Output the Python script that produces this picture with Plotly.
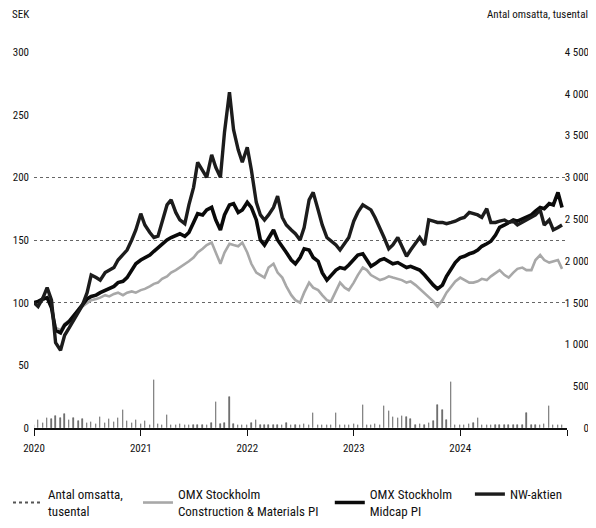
import pandas as pd
import plotly.graph_objects as go

FONT = "Liberation Sans Narrow, Roboto Condensed, Arial Narrow, sans-serif"
INK = "#111111"

# semi-monthly observations (1st and 15th), Jan 2020 - Dec 2024
DATES = pd.date_range("2020-01-01", periods=120, freq="SMS")

NW_SHARE = [
    100, 97, 104, 112, 102, 68, 62, 74, 80, 86, 92, 98, 108, 122, 120, 118,
    124, 126, 128, 134, 138, 142, 150, 158, 171, 162, 156, 152, 153, 164, 178, 182,
    172, 166, 163, 178, 192, 212, 206, 200, 218, 208, 200, 236, 268, 238, 222, 212,
    224, 206, 180, 170, 166, 170, 176, 185, 168, 162, 158, 155, 150, 160, 182, 188,
    174, 162, 152, 149, 146, 142, 148, 152, 165, 172, 178, 176, 174, 168, 160, 152,
    143, 146, 152, 145, 137, 142, 148, 152, 146, 166, 165, 164, 164, 163, 164, 165,
    167, 168, 172, 171, 170, 168, 175, 164, 164, 165, 166, 164, 165, 162, 164, 166,
    168, 170, 174, 162, 166, 158, 160, 162,
]

MIDCAP = [
    100, 101, 103, 104, 96, 78, 76, 82, 85, 89, 94, 98, 103, 105, 106, 108,
    110, 111, 113, 116, 117, 120, 126, 131, 134, 136, 138, 141, 144, 147, 150, 152,
    154, 155, 153, 156, 164, 171, 170, 174, 176, 166, 158, 170, 178, 179, 172, 174,
    180, 176, 166, 150, 146, 152, 158, 150, 144, 140, 134, 131, 136, 143, 142, 136,
    133, 124, 118, 122, 126, 128, 127, 130, 134, 138, 139, 134, 129, 131, 134, 135,
    133, 131, 132, 130, 128, 129, 127, 126, 122, 118, 114, 111, 114, 121, 127, 132,
    136, 137, 139, 140, 142, 145, 147, 149, 154, 160, 162, 164, 166, 165, 167, 168,
    170, 173, 176, 175, 179, 178, 188, 176,
]

CONSTRUCTION = [
    100, 99, 102, 104, 96, 80, 78, 83, 86, 90, 94, 97, 100, 102, 103, 104,
    106, 105, 107, 108, 106, 108, 109, 108, 110, 111, 113, 115, 116, 119, 121, 124,
    126, 128, 131, 133, 136, 140, 143, 146, 148, 140, 131, 140, 147, 146, 145, 148,
    140, 131, 124, 122, 120, 128, 131, 124, 120, 113, 106, 102, 100, 108, 116, 112,
    110, 106, 102, 101, 110, 116, 112, 110, 116, 122, 128, 126, 122, 120, 118, 119,
    121, 120, 119, 118, 116, 117, 114, 111, 108, 105, 101, 97, 102, 108, 113, 117,
    120, 118, 116, 116, 117, 119, 118, 121, 124, 126, 122, 120, 124, 127, 128, 126,
    126, 134, 138, 134, 132, 133, 134, 127,
]

# thousands of shares traded
VOLUME = [
    40, 95, 60, 120, 110, 140, 120, 170, 100, 120, 80, 110, 60, 70, 50, 130,
    60, 110, 70, 120, 215, 80, 60, 95, 50, 80, 40, 570, 50, 40, 160, 40,
    30, 50, 30, 40, 30, 40, 30, 35, 60, 310, 50, 60, 370, 50, 40, 30,
    40, 60, 90, 40, 30, 40, 30, 40, 30, 60, 40, 30, 40, 50, 40, 180,
    30, 40, 30, 40, 180, 30, 40, 30, 50, 40, 275, 40, 30, 50, 40, 260,
    200, 130, 120, 140, 130, 110, 40, 50, 40, 60, 80, 275, 220, 90, 550, 40,
    30, 40, 50, 60, 120, 40, 30, 40, 30, 40, 30, 40, 30, 40, 30, 180,
    30, 40, 30, 50, 260, 40, 30, 40,
]

YEAR_TICKS = ["2020-01-01", "2021-01-01", "2022-01-01", "2023-01-01", "2024-01-01", "2025-01-01"]
YEAR_LABELS = ["2020", "2021", "2022", "2023", "2024", ""]
SEK_TICKS = [0, 50, 100, 150, 200, 250, 300]
GRID_LEVELS = [100, 150, 200]
VOL_TICKS = [0, 500, 1000, 1500, 2000, 2500, 3000, 3500, 4000, 4500]
VOL_LABELS = ["0", "500", "1 000", "1 500", "2 000", "2 500", "3 000", "3 500", "4 000", "4 500"]

fig = go.Figure()

# empty trace so the grid-only axis gets drawn
fig.add_trace(go.Scatter(x=[DATES[0]], y=[None], yaxis="y3", showlegend=False, hoverinfo="skip"))

fig.add_trace(go.Bar(
    x=DATES, y=VOLUME, yaxis="y2", width=1.2 * 86400000,
    marker=dict(color="#5a5a5a", line=dict(width=0.6, color="#5a5a5a")),
    showlegend=False, hoverinfo="x+y",
))
# legend stand-in for the volume bars
fig.add_trace(go.Scatter(
    x=[None], y=[None], mode="lines", name="Antal omsatta,<br>tusental",
    line=dict(color="#555555", width=2, dash="dot"), legend="legend",
))
fig.add_trace(go.Scatter(
    x=DATES, y=CONSTRUCTION, mode="lines", name="OMX Stockholm<br>Construction & Materials PI",
    line=dict(color="#a8a8a8", width=2.6), legend="legend2",
))
fig.add_trace(go.Scatter(
    x=DATES, y=MIDCAP, mode="lines", name="OMX Stockholm<br>Midcap PI",
    line=dict(color="#0a0a0a", width=3.6), legend="legend3",
))
fig.add_trace(go.Scatter(
    x=DATES, y=NW_SHARE, mode="lines", name="NW-aktien",
    line=dict(color="#1c1c1c", width=3.4), legend="legend4",
))

legend_base = dict(
    orientation="h", xref="paper", yref="container", y=0.094, yanchor="top",
    xanchor="left", font=dict(family=FONT, size=13, color=INK), bgcolor="rgba(0,0,0,0)",
    itemwidth=30,
)

# the page sits 8 px in from the window edge, so the figure is drawn 8 px smaller
fig.update_layout(
    width=588,
    height=520,
    margin=dict(l=26, r=6, t=44, b=100),
    paper_bgcolor="white",
    plot_bgcolor="white",
    font=dict(family=FONT, size=11, color=INK),
    bargap=0,
    xaxis=dict(
        type="date",
        domain=[0, 533 / 556],
        range=["2020-01-01", "2025-01-01"],
        tickvals=YEAR_TICKS,
        ticktext=YEAR_LABELS,
        ticks="outside",
        ticklen=6,
        tickcolor=INK,
        ticklabelstandoff=3,
        showline=True,
        linecolor=INK,
        linewidth=1.5,
        showgrid=False,
        zeroline=False,
    ),
    yaxis=dict(
        range=[0, 300],
        tickvals=SEK_TICKS,
        showgrid=False,
        zeroline=False,
        ticks="",
        ticklabelstandoff=4,
    ),
    yaxis3=dict(
        range=[0, 300],
        overlaying="y",
        tickvals=GRID_LEVELS,
        showticklabels=False,
        showgrid=True,
        gridcolor="#666666",
        griddash="dot",
        gridwidth=1,
        zeroline=False,
    ),
    yaxis2=dict(
        range=[0, 4500],
        overlaying="y",
        anchor="free",
        position=1.0,
        side="left",
        tickvals=VOL_TICKS,
        ticktext=VOL_LABELS,
        showgrid=False,
        zeroline=False,
        ticks="",
        ticklabelstandoff=1,
    ),
    legend=dict(legend_base, x=-0.066),
    legend2=dict(legend_base, x=0.187),
    legend3=dict(legend_base, x=0.532),
    legend4=dict(legend_base, x=0.784),
    annotations=[
        dict(text="SEK", xref="paper", yref="paper", x=-0.043, y=1.1, xanchor="left",
             yanchor="middle", showarrow=False, font=dict(family=FONT, size=11, color=INK)),
        dict(text="Antal omsatta, tusental", xref="paper", yref="paper", x=1.0, y=1.1,
             xanchor="right", yanchor="middle", showarrow=False,
             font=dict(family=FONT, size=11, color=INK)),
    ],
)

fig.write_html("out.html")
